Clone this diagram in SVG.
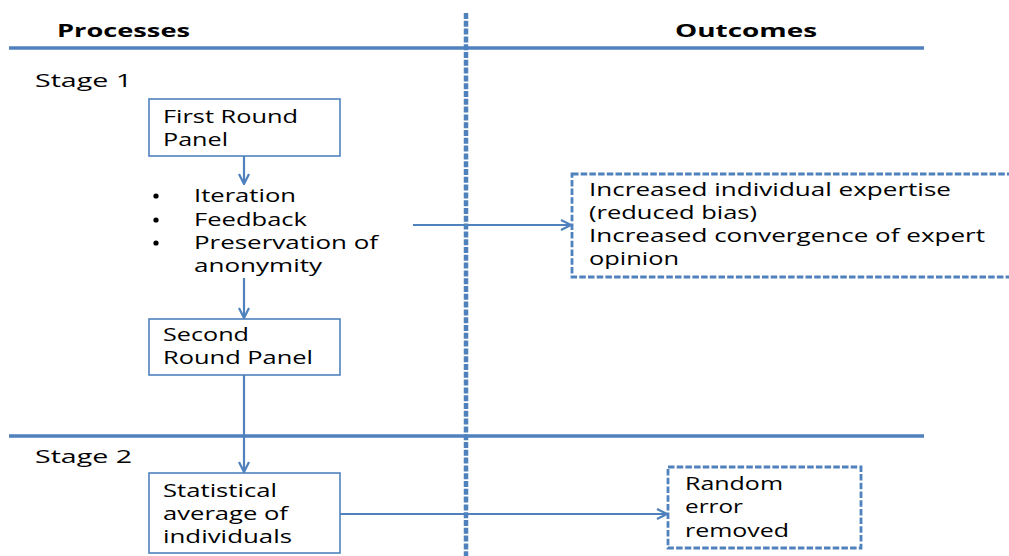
<svg xmlns="http://www.w3.org/2000/svg" width="1009" height="556" viewBox="0 0 1009 556">
  <style>
    text { font-family: "Open Sans", "Liberation Sans", sans-serif; font-size: 17.5px; fill: #000; }
    .hdr { font-weight: bold; font-size: 18.5px; }
    .dot { fill: #000; }
    .rule { stroke: #4f81bd; stroke-width: 3.5; fill: none; }
    .divider { stroke: #4f81bd; stroke-width: 4.5; stroke-dasharray: 6 1.8; fill: none; }
    .box { fill: #fff; stroke: #4f81bd; stroke-width: 1.6; }
    .dbox { fill: #fff; stroke: #4f81bd; stroke-width: 2.8; stroke-dasharray: 6.5 2.2; }
    .conn { stroke: #4f81bd; stroke-width: 2.2; fill: none; marker-end: url(#arrow); }
  </style>
  <defs>
    <marker id="arrow" viewBox="0 0 12 12" refX="11" refY="6" markerWidth="12" markerHeight="12" markerUnits="userSpaceOnUse" orient="auto">
      <path d="M1 1 L11 6 L1 11" fill="none" stroke="#4f81bd" stroke-width="2.2"/>
    </marker>
  </defs>
  <rect width="1009" height="556" fill="#fff"/>

  <!-- column and stage rules -->
  <g id="layout">
    <line class="rule" x1="9" y1="48" x2="924" y2="48"/>
    <line class="rule" x1="9" y1="436" x2="924" y2="436"/>
    <line class="divider" x1="466" y1="13" x2="466" y2="556"/>
    <text class="hdr" x="57" y="37" textLength="133" lengthAdjust="spacingAndGlyphs">Processes</text>
    <text class="hdr" x="675" y="37" textLength="142" lengthAdjust="spacingAndGlyphs">Outcomes</text>
    <text x="35" y="87" textLength="97" lengthAdjust="spacingAndGlyphs">Stage 1</text>
    <text x="35" y="463" textLength="97" lengthAdjust="spacingAndGlyphs">Stage 2</text>
  </g>

  <!-- connectors -->
  <g id="connectors">
    <line class="conn" x1="244" y1="156" x2="244" y2="184"/>
    <line class="conn" x1="244" y1="278" x2="244" y2="318"/>
    <line class="conn" x1="244" y1="375" x2="244" y2="472"/>
    <line class="conn" x1="413" y1="225" x2="571" y2="225"/>
    <line class="conn" x1="340" y1="514" x2="667" y2="514"/>
  </g>

  <g id="first-round">
    <rect class="box" x="149" y="99" width="191" height="57"/>
    <text x="163" y="123" textLength="135" lengthAdjust="spacingAndGlyphs">First Round</text>
    <text x="163" y="146" textLength="65" lengthAdjust="spacingAndGlyphs">Panel</text>
  </g>

  <g id="mechanisms">
    <circle class="dot" cx="156" cy="196" r="2.6"/>
    <circle class="dot" cx="156" cy="220" r="2.6"/>
    <circle class="dot" cx="156" cy="243" r="2.6"/>
    <text x="194" y="202" textLength="102" lengthAdjust="spacingAndGlyphs">Iteration</text>
    <text x="194" y="226" textLength="113" lengthAdjust="spacingAndGlyphs">Feedback</text>
    <text x="194" y="249" textLength="184" lengthAdjust="spacingAndGlyphs">Preservation of</text>
    <text x="194" y="272" textLength="128" lengthAdjust="spacingAndGlyphs">anonymity</text>
  </g>

  <g id="second-round">
    <rect class="box" x="149" y="319" width="191" height="56"/>
    <text x="163" y="341" textLength="86" lengthAdjust="spacingAndGlyphs">Second</text>
    <text x="163" y="364" textLength="150" lengthAdjust="spacingAndGlyphs">Round Panel</text>
  </g>

  <g id="statistical-average">
    <rect class="box" x="149" y="473" width="191" height="80"/>
    <text x="163" y="497" textLength="114" lengthAdjust="spacingAndGlyphs">Statistical</text>
    <text x="163" y="520" textLength="125" lengthAdjust="spacingAndGlyphs">average of</text>
    <text x="163" y="543" textLength="129" lengthAdjust="spacingAndGlyphs">individuals</text>
  </g>

  <g id="expertise-outcome">
    <rect class="dbox" x="572" y="174" width="460" height="103"/>
    <text x="589" y="196" textLength="362" lengthAdjust="spacingAndGlyphs">Increased individual expertise</text>
    <text x="589" y="219" textLength="168" lengthAdjust="spacingAndGlyphs">(reduced bias)</text>
    <text x="589" y="242" textLength="396" lengthAdjust="spacingAndGlyphs">Increased convergence of expert</text>
    <text x="589" y="265" textLength="90" lengthAdjust="spacingAndGlyphs">opinion</text>
  </g>

  <g id="random-error-outcome">
    <rect class="dbox" x="668" y="467" width="193" height="81"/>
    <text x="685" y="490" textLength="98" lengthAdjust="spacingAndGlyphs">Random</text>
    <text x="685" y="513" textLength="58" lengthAdjust="spacingAndGlyphs">error</text>
    <text x="685" y="537" textLength="104" lengthAdjust="spacingAndGlyphs">removed</text>
  </g>
</svg>
